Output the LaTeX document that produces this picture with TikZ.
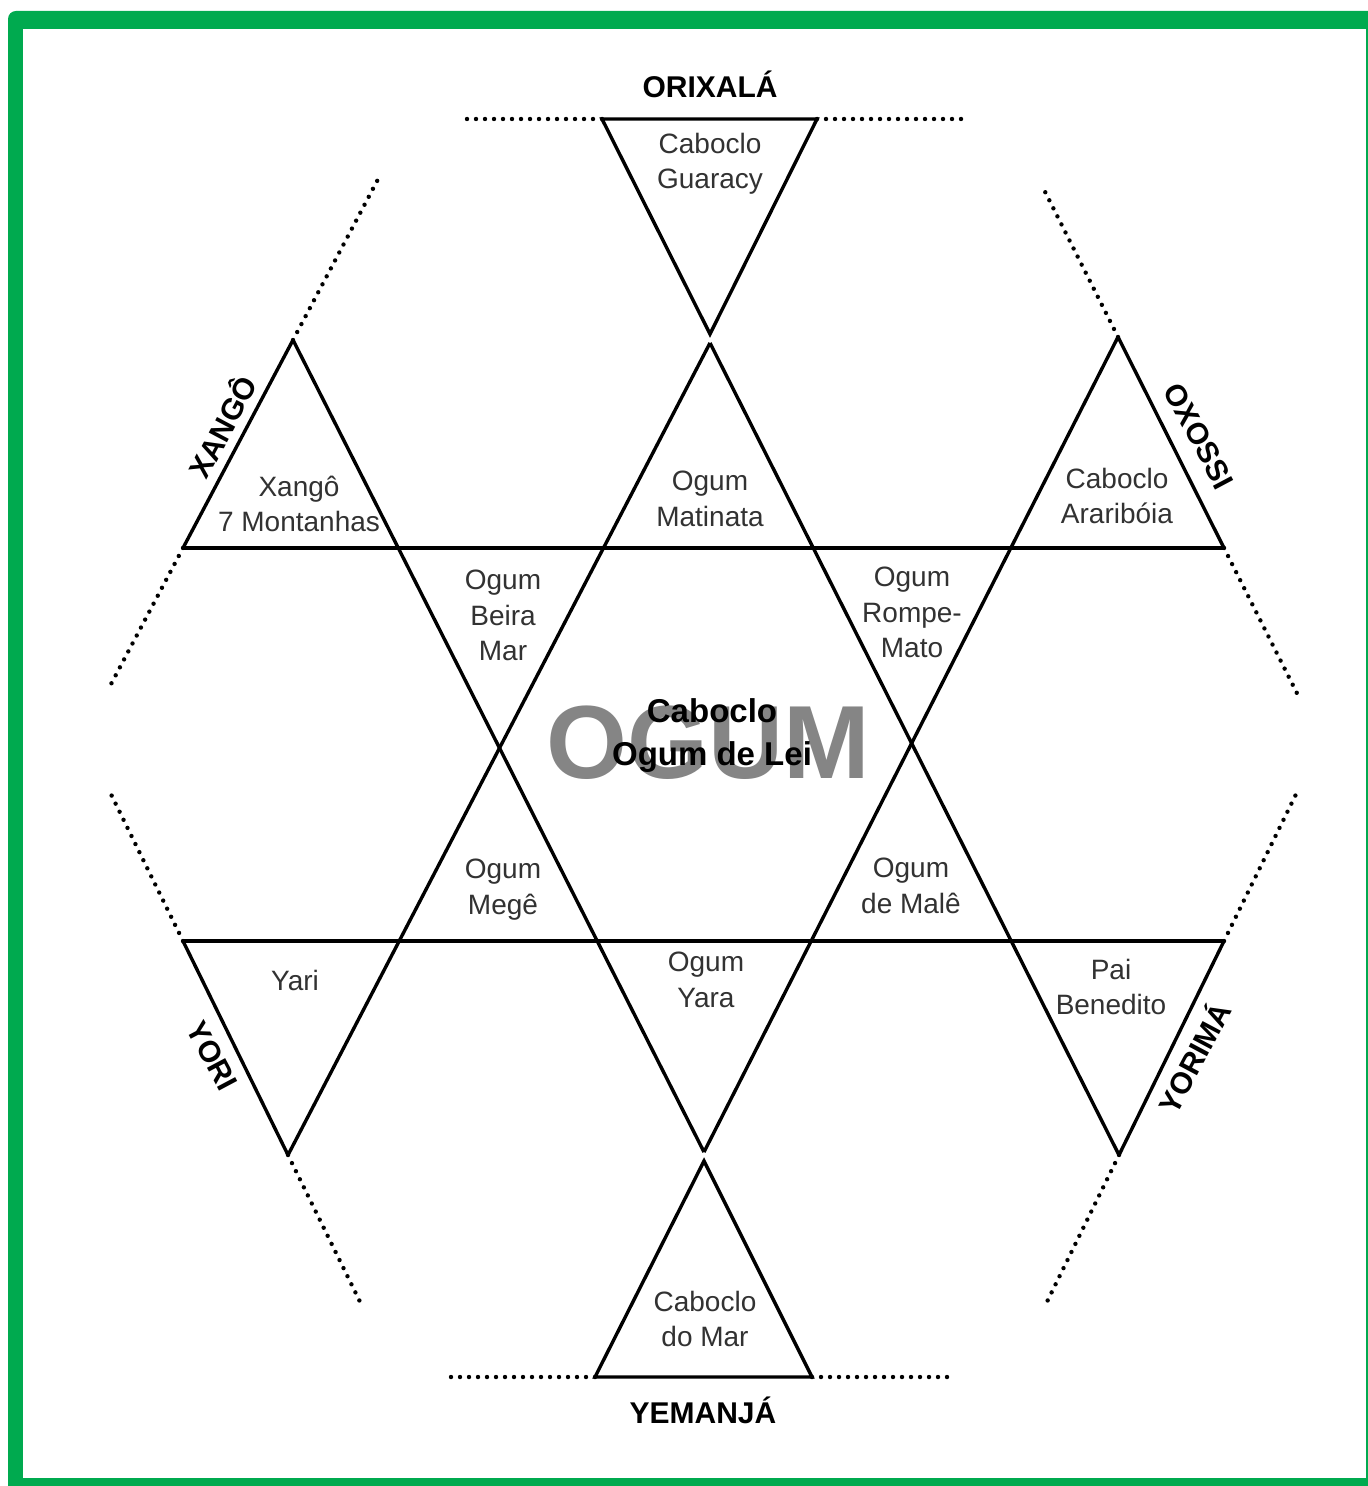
\documentclass[tikz,border=0pt]{standalone}
\usepackage{fontspec}
\setmainfont{Liberation Sans}
\usepackage{tikz}
\usetikzlibrary{calc}
\definecolor{framegreen}{RGB}{0,170,79}
\definecolor{inkgray}{RGB}{50,50,50}

\begin{document}
\begin{tikzpicture}[x=0.5pt, y=-0.5pt,
					edge/.style={line width=1.7pt, line join=miter},
					dots/.style={line width=2.2pt, line cap=round, dash pattern=on 0pt off 4.5pt},
					orixa/.style={font=\fontsize{15}{18}\selectfont\bfseries, inner sep=0pt},
					entity/.style={font=\fontsize{14}{17.6}\selectfont, text=inkgray, align=center, anchor=north, inner sep=0pt},
					lei/.style={font=\fontsize{16.5}{21.5}\selectfont\bfseries, align=center, anchor=north, inner sep=0pt}
					]
					\useasboundingbox (0,0) rectangle (1368,1486);
					\clip (0,0) rectangle (1368,1486);
					
					% Frame
					\fill[framegreen, rounded corners=4pt] (8,11) rectangle (1400,1510);
					\fill[white] (23,29) rectangle (1366,1478);
					
					% Corners
					\coordinate (t1) at (602,119);
					\coordinate (t2) at (817,119);
					\coordinate (tA) at (710,334);
					\coordinate (mA) at (710,343);
					\coordinate (xA) at (293,340);
					\coordinate (xL) at (183,548);
					\coordinate (oA) at (1118,337);
					\coordinate (oR) at (1224,548);
					\coordinate (yoL) at (183,941);
					\coordinate (yoA) at (288,1155);
					\coordinate (ymR) at (1224,941);
					\coordinate (ymA) at (1119,1155);
					\coordinate (yA) at (704,1152);
					\coordinate (bA) at (704,1161);
					\coordinate (b1) at (595,1377);
					\coordinate (b2) at (812,1377);
					
					% Triangles
					\draw[edge] (t1) -- (t2) -- (tA) -- cycle;
					\draw[edge] (b1) -- (b2) -- (bA) -- cycle;
					\draw[edge] (xL) -- (oR);
					\draw[edge] (yoL) -- (ymR);
					\draw[edge] (mA) -- (yoA);
					\draw[edge] (mA) -- (ymA);
					\draw[edge] (xA) -- (yA);
					\draw[edge] (oA) -- (yA);
					\draw[edge] (xA) -- (xL);
					\draw[edge] (oA) -- (oR);
					\draw[edge] (yoL) -- (yoA);
					\draw[edge] (ymR) -- (ymA);
					
					% Dotted borders
					\draw[dots] (t1) -- ($(t1)!-0.665!(t2)$);
					\draw[dots] (t2) -- ($(t2)!-0.69!(t1)$);
					\draw[dots] (b1) -- ($(b1)!-0.68!(b2)$);
					\draw[dots] (b2) -- ($(b2)!-0.645!(b1)$);
					\draw[dots] (xA) -- ($(xA)!-0.77!(xL)$);
					\draw[dots] (xL) -- ($(xL)!-0.66!(xA)$);
					\draw[dots] (oA) -- ($(oA)!-0.71!(oR)$);
					\draw[dots] (oR) -- ($(oR)!-0.71!(oA)$);
					\draw[dots] (yoL) -- ($(yoL)!-0.69!(yoA)$);
					\draw[dots] (yoA) -- ($(yoA)!-0.71!(yoL)$);
					\draw[dots] (ymR) -- ($(ymR)!-0.71!(ymA)$);
					\draw[dots] (ymA) -- ($(ymA)!-0.69!(ymR)$);
					
					% Orixas
					\node[orixa, anchor=base] (orixala) at (710,98) {ORIXALÁ};
					\node[orixa, anchor=base] (yemanja) at (703,1423) {YEMANJÁ};
					\node[orixa, rotate=62] (xango) at (221,426) {XANGÔ};
					\node[orixa, rotate=-62] (oxossi) at (1199,436) {OXOSSI};
					\node[orixa, rotate=-62] (yori) at (212,1056) {YORI};
					\node[orixa, rotate=62] (yorima) at (1193,1057) {YORIMÁ};
					
					% Entities
					\node[entity] (guaracy) at (710,133) {Caboclo\\Guaracy};
					\node[entity] (matinata) at (710,471) {Ogum\\Matinata};
					\node[entity] (montanhas) at (299,476) {Xangô\\7 Montanhas};
					\node[entity] (arariboia) at (1117,468) {Caboclo\\Araribóia};
					\node[entity] (beiramar) at (503,570) {Ogum\\Beira\\Mar};
					\node[entity] (rompemato) at (912,567) {Ogum\\Rompe-\\Mato};
					\node[entity] (mege) at (503,859) {Ogum\\Megê};
					\node[entity] (male) at (911,858) {Ogum\\de Malê};
					\node[entity] (yari) at (295,970) {Yari};
					\node[entity] (yara) at (706,952) {Ogum\\Yara};
					\node[entity] (benedito) at (1111,959) {Pai\\Benedito};
					\node[entity] (domar) at (705,1291) {Caboclo\\do Mar};
					
					% Centre
					\node[font=\fontsize{52}{52}\selectfont\bfseries, text=black!48, anchor=base, inner sep=0pt] (ogumword) at (708,778) {OGUM};
					\node[lei] (lei) at (712,698) {Caboclo\\Ogum de Lei};
				\end{tikzpicture}
\end{document}
